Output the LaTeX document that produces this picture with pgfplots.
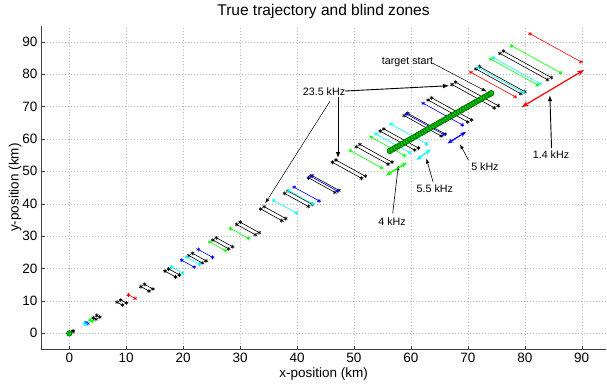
\documentclass[border=0pt]{standalone}
\usepackage{pgfplots}
\pgfplotsset{compat=1.18}
\usepackage{fontspec}
\setmainfont{Liberation Sans}
\usetikzlibrary{arrows.meta}
\definecolor{mgreen}{rgb}{0,1,0}
\definecolor{mcyan}{rgb}{0,1,1}
\definecolor{mblue}{rgb}{0,0,1}
\definecolor{mred}{rgb}{1,0,0}
\begin{document}
\begin{tikzpicture}
\begin{axis}[
 scale only axis, width=565.3pt, height=324pt,
 xmin=-5, xmax=94.3, ymin=-5, ymax=95,
 xtick={0,10,...,90}, ytick={0,10,...,90},
 axis x line*=bottom, axis y line*=left,
 axis line style={black!75, line width=0.5pt},
 tick align=inside, major tick length=4pt, tick style={black!75},
 grid=major, major grid style={gray!55, line width=0.4pt, dash pattern=on 1pt off 2pt},
 /pgf/number format/assume math mode=true,
 tick label style={font=\fontsize{13.5}{16}\selectfont},
 label style={font=\fontsize{13.5}{16}\selectfont},
 xlabel={x-position (km)}, ylabel={y-position (km)},
 xlabel style={at={(axis description cs:0.5,0)}, anchor=base, yshift=-27.7pt},
 ylabel style={at={(axis description cs:-0.0456,0.5)}, anchor=center},
 title={True trajectory and blind zones},
 title style={at={(axis description cs:0.5,1)}, anchor=base, yshift=3.5pt, font=\fontsize{15.5}{18}\selectfont},
 clip=false,
 unbounded coords=jump,
 every axis plot/.append style={line width=0.6pt, mark=asterisk, mark size=2pt},
]
% 23.5 kHz (black)
\addplot[black] coordinates {
(0.62,0.71) (0.69,0.64) (nan,nan)
(4.20,4.80) (4.67,4.35) (nan,nan)
(4.82,5.51) (5.35,4.99) (nan,nan)
(8.40,9.60) (9.33,8.70) (nan,nan)
(9.02,10.31) (10.02,9.34) (nan,nan)
(12.60,14.40) (14.00,13.05) (nan,nan)
(13.22,15.11) (14.68,13.69) (nan,nan)
(16.81,19.20) (18.66,17.40) (nan,nan)
(17.43,19.91) (19.35,18.04) (nan,nan)
(21.01,24.00) (23.32,21.75) (nan,nan)
(21.63,24.70) (24.01,22.39) (nan,nan)
(25.21,28.80) (27.99,26.10) (nan,nan)
(25.83,29.50) (28.68,26.74) (nan,nan)
(29.41,33.60) (32.65,30.45) (nan,nan)
(30.03,34.30) (33.34,31.09) (nan,nan)
(33.61,38.39) (37.32,34.80) (nan,nan)
(34.23,39.10) (38.01,35.44) (nan,nan)
(37.81,43.19) (41.98,39.15) (nan,nan)
(38.43,43.90) (42.67,39.79) (nan,nan)
(42.02,47.99) (46.65,43.50) (nan,nan)
(42.64,48.70) (47.34,44.14) (nan,nan)
(46.22,52.79) (51.32,47.85) (nan,nan)
(46.84,53.50) (52.00,48.49) (nan,nan)
(50.42,57.59) (55.98,52.20) (nan,nan)
(51.04,58.30) (56.67,52.84) (nan,nan)
(54.62,62.39) (60.65,56.55) (nan,nan)
(55.24,63.10) (61.33,57.19) (nan,nan)
(58.82,67.19) (65.31,60.90) (nan,nan)
(59.44,67.90) (66.00,61.54) (nan,nan)
(63.02,71.99) (69.97,65.25) (nan,nan)
(63.64,72.70) (70.66,65.89) (nan,nan)
(67.22,76.79) (74.64,69.60) (nan,nan)
(67.84,77.50) (75.33,70.25) (nan,nan)
(71.43,81.59) (79.30,73.95) (nan,nan)
(72.05,82.30) (79.99,74.60) (nan,nan)
(75.63,86.39) (83.97,78.30) (nan,nan)
(76.25,87.10) (84.66,78.95)
};
% 5 kHz (blue)
\addplot[mblue] coordinates {
(2.91,3.33) (3.23,3.02) (nan,nan)
(19.75,22.56) (21.93,20.45) (nan,nan)
(22.66,25.88) (25.16,23.46) (nan,nan)
(39.49,45.11) (43.85,40.89) (nan,nan)
(42.41,48.44) (47.08,43.91) (nan,nan)
(59.24,67.67) (65.78,61.34) (nan,nan)
(62.15,71.00) (69.01,64.35)
};
% 5.5 kHz (cyan)
\addplot[mcyan] coordinates {
(2.65,3.02) (2.94,2.74) (nan,nan)
(17.95,20.51) (19.93,18.59) (nan,nan)
(20.60,23.53) (22.87,21.33) (nan,nan)
(35.90,41.01) (39.86,37.17) (nan,nan)
(38.55,44.04) (42.80,39.92) (nan,nan)
(53.86,61.52) (59.80,55.76) (nan,nan)
(56.50,64.54) (62.74,58.50) (nan,nan)
(71.81,82.02) (79.73,74.35) (nan,nan)
(74.46,85.05) (82.67,77.09)
};
% 4 kHz (green)
\addplot[mgreen] coordinates {
(3.64,4.16) (4.04,3.77) (nan,nan)
(24.68,28.20) (27.41,25.56) (nan,nan)
(28.32,32.35) (31.45,29.33) (nan,nan)
(49.37,56.39) (54.81,51.11) (nan,nan)
(53.01,60.55) (58.86,54.88) (nan,nan)
(74.05,84.59) (82.22,76.67) (nan,nan)
(77.69,88.75) (86.26,80.44)
};
% 1.4 kHz (red)
\addplot[mred] coordinates {
(10.40,11.88) (11.55,10.77) (nan,nan)
(70.53,80.56) (78.30,73.02) (nan,nan)
(80.93,92.44) (89.86,83.79)
};
% radar and trajectory
\addplot[only marks, mark=*, mark size=2.8pt, draw=black!60!green, fill=green!75!black, line width=0.6pt] coordinates {(0,0)};
\addplot[only marks, mark=*, mark size=2.8pt, draw=black!60!green, fill=green!75!black, line width=0.6pt] coordinates {
(56.3,56.3) (56.75,56.75) (57.2,57.2) (57.65,57.65) (58.1,58.1) (58.55,58.55) (59.0,59.0) (59.45,59.45)
(59.9,59.9) (60.35,60.35) (60.8,60.8) (61.25,61.25) (61.7,61.7) (62.15,62.15) (62.6,62.6) (63.05,63.05)
(63.5,63.5) (63.95,63.95) (64.4,64.4) (64.85,64.85) (65.3,65.3) (65.75,65.75) (66.2,66.2) (66.65,66.65)
(67.1,67.1) (67.55,67.55) (68.0,68.0) (68.45,68.45) (68.9,68.9) (69.35,69.35) (69.8,69.8) (70.25,70.25)
(70.7,70.7) (71.15,71.15) (71.6,71.6) (72.05,72.05) (72.5,72.5) (72.95,72.95) (73.4,73.4) (73.85,73.85)
(74.1,74.1)
};
% annotations
\tikzset{ann/.style={font=\fontsize{10.7}{12}\selectfont, inner sep=1pt}}
\node[ann] at (axis cs:59.4,83.7) {target start};
\draw[line width=0.5pt, -{Latex[length=5pt,width=3.5pt]}] (axis cs:63.9,83.3) -- (axis cs:73.3,74.6);
\node[ann] at (axis cs:44.74,74.5) {23.5 kHz};
\draw[line width=0.9pt, -{Latex[length=6pt,width=4.5pt]}] (axis cs:48.43,74.78) -- (axis cs:66.7,76.42);
\draw[line width=0.9pt, -{Latex[length=6pt,width=4.5pt]}] (axis cs:47.2,72.9) -- (axis cs:47.2,54.1);
\draw[line width=0.5pt, -{Latex[length=5pt,width=3.5pt]}] (axis cs:45.8,71.7) -- (axis cs:34.4,40.1);
\node[ann] at (axis cs:64.2,44.8) {5.5 kHz};
\draw[line width=0.6pt, -{Latex[length=5pt,width=3.5pt]}] (axis cs:63.9,46.7) -- (axis cs:62.7,54.0);
\node[ann] at (axis cs:56.7,34.4) {4 kHz};
\draw[line width=0.6pt, -{Latex[length=5pt,width=3.5pt]}] (axis cs:56.8,37.0) -- (axis cs:57.8,51.9);
\node[ann] at (axis cs:73.0,51.3) {5 kHz};
\draw[line width=0.6pt, -{Latex[length=5pt,width=3.5pt]}] (axis cs:70.1,53.5) -- (axis cs:68.6,58.4);
\node[ann] at (axis cs:84.6,55.0) {1.4 kHz};
\draw[line width=0.9pt, -{Latex[length=6pt,width=4.5pt]}] (axis cs:84.7,57.2) -- (axis cs:84.4,73.5);
% blind-zone width arrows
\draw[mred, line width=1.2pt, {Stealth[length=7pt,width=5pt]}-{Stealth[length=7pt,width=5pt]}] (axis cs:79.47,69.85) -- (axis cs:90.41,81.27);
\draw[mblue, line width=1.2pt, {Stealth[length=6pt,width=4.5pt]}-{Stealth[length=6pt,width=4.5pt]}] (axis cs:66.4,58.6) -- (axis cs:69.7,62.2);
\draw[mcyan, line width=1.2pt, {Stealth[length=6pt,width=4.5pt]}-{Stealth[length=6pt,width=4.5pt]}] (axis cs:61.0,53.5) -- (axis cs:63.5,56.8);
\draw[mgreen, line width=1.2pt, {Stealth[length=6pt,width=4.5pt]}-{Stealth[length=6pt,width=4.5pt]}] (axis cs:55.6,48.7) -- (axis cs:59.3,52.7);
\coordinate (BL) at (axis cs:-12.17,-16.27);
\coordinate (TR) at (axis cs:94.44,102.87);
\end{axis}
\pgfresetboundingbox
\useasboundingbox (BL) rectangle (TR);
\end{tikzpicture}
\end{document}
